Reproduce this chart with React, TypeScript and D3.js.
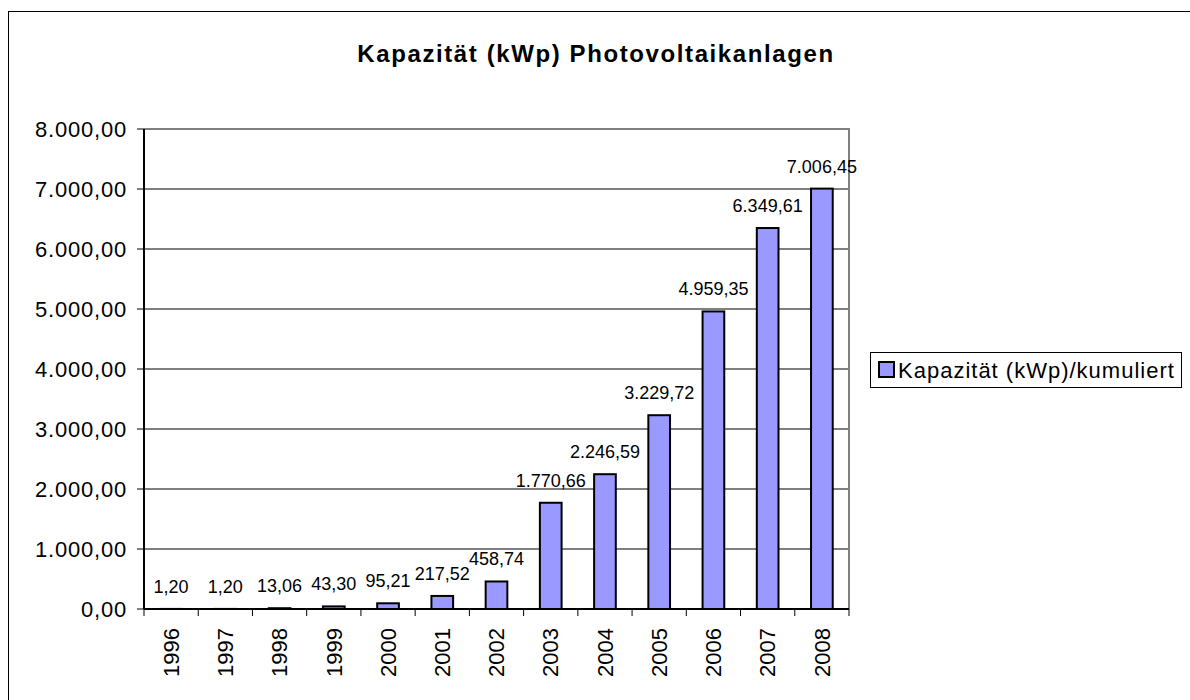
import * as d3 from 'd3'

const years = ['1996', '1997', '1998', '1999', '2000', '2001', '2002', '2003', '2004', '2005', '2006', '2007', '2008']
const capacity = [1.2, 1.2, 13.06, 43.3, 95.21, 217.52, 458.74, 1770.66, 2246.59, 3229.72, 4959.35, 6349.61, 7006.45]
const yTicks = [0, 1000, 2000, 3000, 4000, 5000, 6000, 7000, 8000]
const title = 'Kapazität (kWp) Photovoltaikanlagen'
const seriesName = 'Kapazität (kWp)/kumuliert'

const de = d3.formatLocale({ decimal: ',', thousands: '.', grouping: [3], currency: ['', ' €'] })
const fmt = de.format(',.2f')

const font = 'Arial, "Liberation Sans", sans-serif'

export default function App() {
  const margin = { left: 144, top: 129, right: 849, bottom: 609 }

  const x = d3.scaleBand()
    .domain(years)
    .range([margin.left, margin.right])
    .paddingInner(0)
    .paddingOuter(0)

  const y = d3.scaleLinear()
    .domain([0, 8000])
    .range([margin.bottom, margin.top])

  // excel-ish gap width of 150%
  const barW = x.bandwidth() / 2.5

  return (
    <svg width={1190} height={700} style={{ position: 'absolute', left: 0, top: 0, background: '#fff' }}>
      {/* outer chart frame, runs past the window */}
      <rect x={8.5} y={11.5} width={1300} height={800} fill="#fff" stroke="#000" strokeWidth={1} />

      <text x={596} y={62} textAnchor="middle" fontFamily={font} fontWeight="bold" fontSize={24}
        letterSpacing={1.6}>{title}</text>

      {/* gridlines */}
      {yTicks.map(t => (
        <line key={t} x1={margin.left} x2={margin.right} y1={y(t)} y2={y(t)} stroke="#000" strokeWidth={1} />
      ))}

      {/* plot border */}
      <polyline
        points={`${margin.left},${margin.top} ${margin.right},${margin.top} ${margin.right},${margin.bottom}`}
        fill="none" stroke="#808080" strokeWidth={2} />

      {/* bars */}
      {years.map((yr, i) => {
        const cx = x(yr)! + x.bandwidth() / 2
        return (
          <rect key={yr} x={cx - barW / 2} y={y(capacity[i])} width={barW}
            height={y(0) - y(capacity[i])} fill="#9999FF" stroke="#000" strokeWidth={2} />
        )
      })}

      {/* value labels */}
      {years.map((yr, i) => (
        <text key={yr} x={x(yr)! + x.bandwidth() / 2} y={y(capacity[i]) - 16} textAnchor="middle"
          fontFamily={font} fontSize={18}>{fmt(capacity[i])}</text>
      ))}

      {/* y axis */}
      <line x1={margin.left} x2={margin.left} y1={margin.top} y2={margin.bottom} stroke="#000" strokeWidth={2} />
      {yTicks.map(t => (
        <g key={t}>
          <line x1={margin.left - 7} x2={margin.left} y1={y(t)} y2={y(t)} stroke="#000" strokeWidth={1} />
          <text x={margin.left - 17} y={y(t)} dy="0.35em" textAnchor="end" fontFamily={font} fontSize={22}
            letterSpacing={0.8}>{fmt(t)}</text>
        </g>
      ))}

      {/* x axis */}
      <line x1={margin.left} x2={margin.right} y1={margin.bottom} y2={margin.bottom} stroke="#000" strokeWidth={2} />
      {[...years.map(yr => x(yr)!), margin.right].map((px, i) => (
        <line key={i} x1={px} x2={px} y1={margin.bottom} y2={margin.bottom + 7} stroke="#000" strokeWidth={1} />
      ))}
      {years.map(yr => {
        const cx = x(yr)! + x.bandwidth() / 2
        return (
          <text key={yr} transform={`translate(${cx},${margin.bottom + 19}) rotate(-90)`} textAnchor="end"
            dy="0.35em" fontFamily={font} fontSize={22}>{yr}</text>
        )
      })}

      {/* legend */}
      <rect x={870.5} y={352.5} width={311} height={35} fill="#fff" stroke="#000" strokeWidth={1} />
      <rect x={879} y={362} width={15} height={15} fill="#9999FF" stroke="#000" strokeWidth={2} />
      <text x={898} y={370} dy="0.35em" fontFamily={font} fontSize={22} letterSpacing={1}>{seriesName}</text>
    </svg>
  )
}
